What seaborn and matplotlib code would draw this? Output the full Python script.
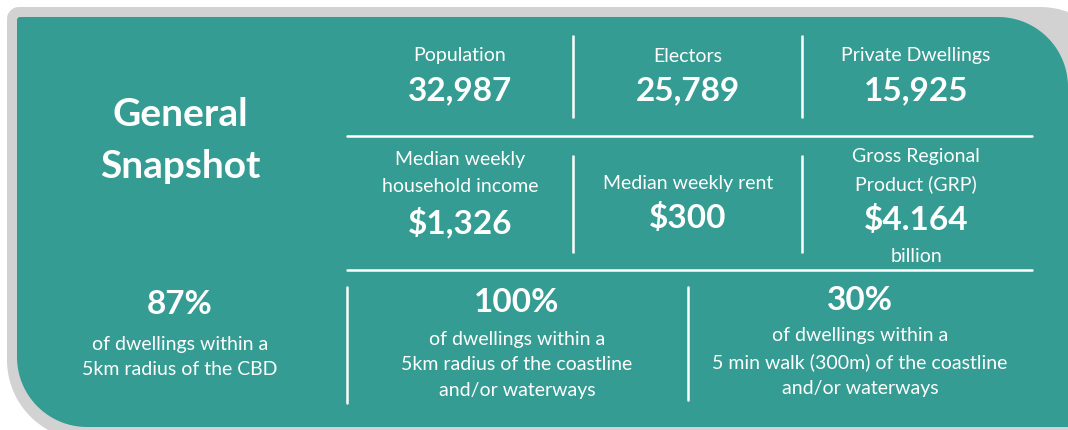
import numpy as np
import matplotlib
matplotlib.use("Agg")
import matplotlib.pyplot as plt
from matplotlib.patches import Polygon
import seaborn as sns

sns.set_theme(style="white")
plt.rcParams['font.family'] = ['Lato', 'DejaVu Sans']

# ---- data ----
title_lines = ["General", "Snapshot"]
top_labels = ["Population", "Electors", "Private Dwellings"]
top_values = ["32,987", "25,789", "15,925"]
mid_labels = ["Median weekly\nhousehold income", "Median weekly rent", "Gross Regional\nProduct (GRP)"]
mid_values = ["$1,326", "$300", "$4.164"]
mid_suffix = ["", "", "billion"]
pct_values = ["87%", "100%", "30%"]
pct_texts = ["of dwellings within a\n5km radius of the CBD",
             "of dwellings within a\n5km radius of the coastline\nand/or waterways",
             "of dwellings within a\n5 min walk (300m) of the coastline\nand/or waterways"]

TEAL = "#359c93"
GREY = "#d2d2d2"
W, H = 1068, 430

fig = plt.figure(figsize=(W / 100, H / 100), dpi=100)
ax = fig.add_axes([0, 0, 1, 1])
ax.set_xlim(0, W)
ax.set_ylim(H, 0)
ax.axis("off")


def rounded(x0, y0, x1, y1, r_tl, r_tr, r_br, r_bl, n=40):
    pts = []
    def arc(cx, cy, r, a0, a1):
        if r <= 0:
            return [(cx, cy)]
        t = np.linspace(np.radians(a0), np.radians(a1), n)
        return list(zip(cx + r * np.cos(t), cy + r * np.sin(t)))
    pts += arc(x0 + r_tl, y0 + r_tl, r_tl, 180, 270)
    pts += arc(x1 - r_tr, y0 + r_tr, r_tr, 270, 360)
    pts += arc(x1 - r_br, y1 - r_br, r_br, 0, 90)
    pts += arc(x0 + r_bl, y1 - r_bl, r_bl, 90, 180)
    return np.array(pts)

ax.add_patch(Polygon(rounded(7, 7, 1120, 440, 12, 80, 0, 80), closed=True,
                     facecolor=GREY, edgecolor="none"))
ax.add_patch(Polygon(rounded(17, 17, 1068, 427, 3, 70, 0, 70), closed=True,
                     facecolor=TEAL, edgecolor="none"))

WHITE = "white"
# title
for line, y in zip(title_lines, [115, 166]):
    ax.text(180, y, line, ha="center", va="center", color=WHITE,
            fontsize=28, fontweight="bold")

cols = [460, 688, 916]
lbl_fs = 14
val_fs = 24

for x, lab, val in zip(cols, top_labels, top_values):
    ax.text(x, 56, lab, ha="center", va="center", color=WHITE, fontsize=lbl_fs)
    ax.text(x, 91, val, ha="center", va="center", color=WHITE, fontsize=val_fs, fontweight="bold")

mid_label_y = [173, 184, 170.5]
mid_value_y = [222, 218, 220]
for x, lab, val, suf, ly, vy in zip(cols, mid_labels, mid_values, mid_suffix, mid_label_y, mid_value_y):
    ax.text(x, ly, lab, ha="center", va="center", color=WHITE, fontsize=lbl_fs, linespacing=1.72)
    ax.text(x, vy, val, ha="center", va="center", color=WHITE, fontsize=val_fs, fontweight="bold")
    if suf:
        ax.text(x, 256, suf, ha="center", va="center", color=WHITE, fontsize=lbl_fs)

pct_x = [180, 517, 860]
pct_y = [305, 302, 300]
txt_y = [357, 365, 362]
for x, pv, pt, py, ty in zip(pct_x, pct_values, pct_texts, pct_y, txt_y):
    ax.text(x, py, pv, ha="center", va="center", color=WHITE, fontsize=val_fs, fontweight="bold")
    ax.text(x, ty, pt, ha="center", va="center", color=WHITE, fontsize=lbl_fs, linespacing=1.64)

# dividers
lw = 1.8
for x in [573, 802]:
    ax.plot([x, x], [35, 118], color=WHITE, lw=lw, solid_capstyle="butt")
    ax.plot([x, x], [155, 253], color=WHITE, lw=lw, solid_capstyle="butt")
ax.plot([347, 1032], [136, 136], color=WHITE, lw=lw)
ax.plot([347, 1032], [270, 270], color=WHITE, lw=lw)
ax.plot([347, 347], [287, 403], color=WHITE, lw=lw)
ax.plot([688, 688], [287, 400], color=WHITE, lw=lw)

fig.savefig("out.png", dpi=100, facecolor="white")
